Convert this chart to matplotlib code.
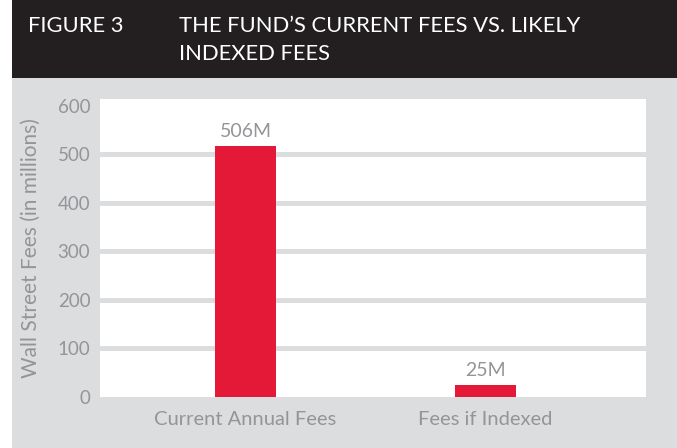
import matplotlib
matplotlib.use("Agg")
import matplotlib.pyplot as plt
from matplotlib.patches import Rectangle

plt.rcParams['font.family'] = ['Lato', 'DejaVu Sans']

categories = ["Current Annual Fees", "Fees if Indexed"]
bar_values = [518, 25]          # bar heights as drawn (millions)
value_labels = ["506M", "25M"]
yticks = [0, 100, 200, 300, 400, 500, 600]

RED = "#e31937"
GREY_BG = "#dcdddf"
TEXT_GREY = "#939598"
DARK = "#231f20"

W, H = 677, 448
fig = plt.figure(figsize=(W / 100, H / 100), dpi=100)
fig.patch.set_facecolor("white")

fig.add_artist(Rectangle((12 / W, 1 - 78 / H), 1 - 12 / W, 78 / H,
                         transform=fig.transFigure, facecolor=DARK, edgecolor="none", zorder=0))
fig.add_artist(Rectangle((12 / W, 0), 1 - 12 / W, 1 - 78 / H,
                         transform=fig.transFigure, facecolor=GREY_BG, edgecolor="none", zorder=0))

tkw = dict(color="white", fontsize=15.8, va="center", ha="left")
fig.text(28 / W, 1 - 25.5 / H, "FIGURE 3", **tkw)
fig.text(179 / W, 1 - 25.5 / H, "THE FUND\u2019S CURRENT FEES VS. LIKELY", **tkw)
fig.text(179 / W, 1 - 54.5 / H, "INDEXED FEES", **tkw)

ax = fig.add_axes([100 / W, 51 / H, 546 / W, 298 / H])
ax.set_facecolor("white")
x = list(range(len(categories)))
bars = ax.bar(x, bar_values, width=0.254, color=RED, zorder=3)
ax.set_xlim(-0.606, 1.669)
ax.set_ylim(0, 614)
ax.set_yticks(yticks)
ax.set_yticklabels([str(t) for t in yticks])
ax.set_xticks(x)
ax.set_xticklabels(categories)
ax.tick_params(axis="both", length=0, colors=TEXT_GREY)
ax.tick_params(axis="y", pad=7, labelsize=13.5)
ax.tick_params(axis="x", pad=10, labelsize=14.5)
for s in ax.spines.values():
    s.set_visible(False)
for t in yticks[1:-1]:
    ax.axhline(t, color=GREY_BG, linewidth=3.6, zorder=1)

for b, lab in zip(bars, value_labels):
    ax.annotate(lab, (b.get_x() + b.get_width() / 2, b.get_height()),
                xytext=(0, 4), textcoords="offset points", ha="center", va="bottom",
                fontsize=14, color=TEXT_GREY)

ax.set_ylabel("Wall Street Fees (in millions)", fontsize=15, color=TEXT_GREY, labelpad=12)

fig.savefig("out.png", dpi=100, facecolor=fig.get_facecolor())
